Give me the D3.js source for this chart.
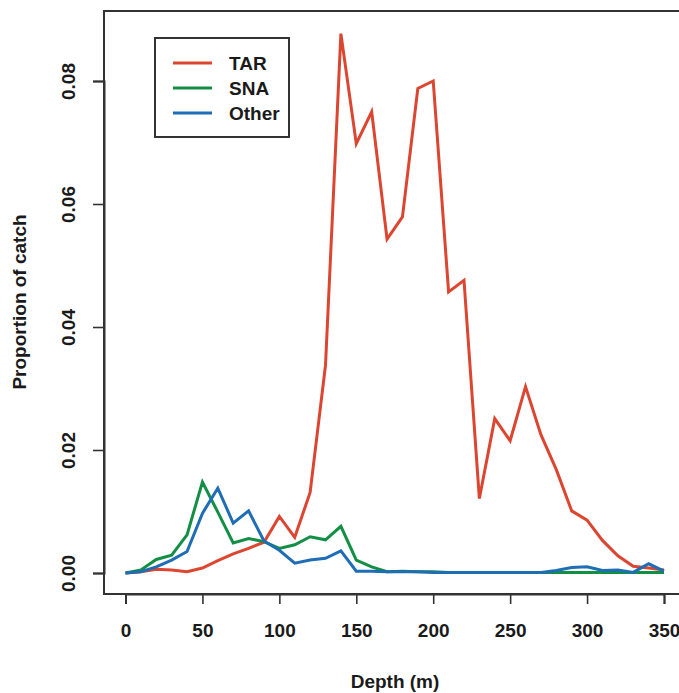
<!DOCTYPE html>
<html>
<head>
<meta charset="utf-8">
<script src="https://cdn.jsdelivr.net/npm/d3@7"></script>
<style>
  html, body { margin: 0; padding: 0; background: #fff; }
  svg { display: block; }
  text { font-family: "Liberation Sans", Arial, Helvetica, sans-serif; font-weight: bold; fill: #1a1a1a; }
</style>
</head>
<body>
<svg id="chart" width="679" height="693"></svg>
<script>
const depths = [0,10,20,30,40,50,60,70,80,90,100,110,120,130,140,150,160,170,180,190,200,210,220,230,240,250,260,270,280,290,300,310,320,330,340,350];
const tar   = [0,0.0002,0.0006,0.0005,0.0002,0.0008,0.002,0.0031,0.004,0.005,0.0092,0.0058,0.0131,0.0338,0.0877,0.0698,0.075,0.0543,0.0579,0.0788,0.08,0.0457,0.0476,0.0121,0.0251,0.0215,0.0303,0.0225,0.0168,0.0101,0.0086,0.0053,0.0028,0.0011,0.0008,0.0005];
const sna   = [0,0.0005,0.0022,0.0029,0.0062,0.0148,0.0099,0.0049,0.0056,0.0051,0.004,0.0046,0.0059,0.0054,0.0076,0.0021,0.001,0.0002,0.0003,0.0002,0.0002,0.0001,0.0001,0.0001,0.0001,0.0001,0.0001,0.0001,0.0001,0.0001,0.0001,0.0001,0.0001,0.0001,0.0001,0.0001];
const other = [0,0.0002,0.001,0.0021,0.0035,0.0097,0.0138,0.0081,0.0101,0.0052,0.0037,0.0016,0.0021,0.0024,0.0036,0.0003,0.0003,0.0002,0.0002,0.0002,0.0001,0.0001,0.0001,0.0001,0.0001,0.0001,0.0001,0.0001,0.0004,0.0009,0.001,0.0004,0.0005,0.0001,0.0015,0.0003];
const seriesNames = ["TAR","SNA","Other"];
const seriesColors = ["#dc4631","#128f45","#1f6db5"];
const xTicks = [0,50,100,150,200,250,300,350];
const yTicks = [0,0.02,0.04,0.06,0.08];
const yTickLabels = ["0.00","0.02","0.04","0.06","0.08"];

const svg = d3.select("#chart");
const x = d3.scaleLinear().domain([0,350]).range([125.5,664]);
const y = d3.scaleLinear().domain([0,0.08]).range([573,81]);
const box = {left:104, right:686, top:11, bottom:594};
const axisColor = "#333";

// box
svg.append("rect").attr("x",box.left).attr("y",box.top)
  .attr("width",box.right-box.left).attr("height",box.bottom-box.top)
  .attr("fill","none").attr("stroke",axisColor).attr("stroke-width",2);

// x axis
const xAxis = svg.append("g").attr("transform",`translate(0,${box.bottom})`)
  .call(d3.axisBottom(x).tickValues(xTicks).tickSize(10).tickPadding(20).tickFormat(d3.format("d")));
xAxis.select(".domain").attr("stroke",axisColor).attr("stroke-width",2);
xAxis.selectAll(".tick line").attr("stroke",axisColor).attr("stroke-width",1.6);
xAxis.selectAll(".tick text").attr("font-size",19).attr("font-family","Liberation Sans, Arial, sans-serif").attr("font-weight","bold").attr("fill","#1a1a1a");

// y axis
const yAxis = svg.append("g").attr("transform",`translate(${box.left},0)`)
  .call(d3.axisLeft(y).tickValues(yTicks).tickSize(11).tickFormat((d,i)=>yTickLabels[i]));
yAxis.select(".domain").attr("stroke",axisColor).attr("stroke-width",2);
yAxis.selectAll(".tick line").attr("stroke",axisColor).attr("stroke-width",1.6);
yAxis.selectAll(".tick text")
  .attr("font-size",19).attr("font-family","Liberation Sans, Arial, sans-serif").attr("font-weight","bold").attr("fill","#1a1a1a")
  .attr("x",null).attr("dy",null)
  .attr("text-anchor","middle")
  .attr("transform","translate(-36,0) rotate(-90)")
  .attr("dy","0.35em");

// lines
const line = d3.line().x((d,i)=>x(depths[i])).y(d=>y(d));
[tar,sna,other].forEach((s,k)=>{
  svg.append("path").datum(s).attr("d",line)
    .attr("fill","none").attr("stroke",seriesColors[k]).attr("stroke-width",3)
    .attr("stroke-linejoin","miter");
});

// axis titles
svg.append("text").attr("x",395).attr("y",688).attr("text-anchor","middle").attr("font-size",19).text("Depth (m)");
svg.append("text").attr("transform","translate(26,302) rotate(-90)").attr("text-anchor","middle").attr("font-size",19).text("Proportion of catch");

// legend
const lg = svg.append("g");
lg.append("rect").attr("x",155).attr("y",38).attr("width",134).attr("height",99)
  .attr("fill","#fff").attr("stroke",axisColor).attr("stroke-width",2);
seriesNames.forEach((n,i)=>{
  const yy = 63 + i*25;
  lg.append("line").attr("x1",173).attr("x2",212).attr("y1",yy).attr("y2",yy)
    .attr("stroke",seriesColors[i]).attr("stroke-width",3);
  lg.append("text").attr("x",229).attr("y",yy).attr("dy","0.36em").attr("font-size",19).text(n);
});
</script>
</body>
</html>
